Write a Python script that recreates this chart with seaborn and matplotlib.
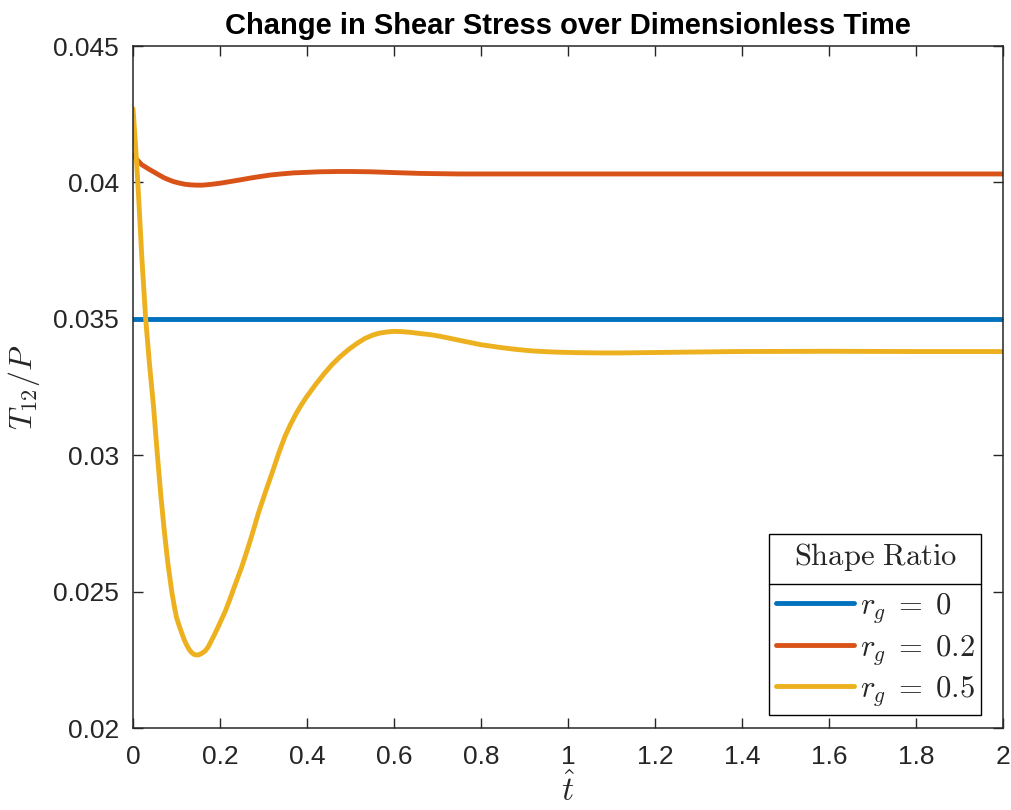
import numpy as np
import pandas as pd
import seaborn as sns
import matplotlib
matplotlib.use("Agg")
import matplotlib.pyplot as plt
from matplotlib.lines import Line2D

# Dimensionless time samples and shear stress T12/P for each shape ratio
t_r0 = [0.0, 2.0]
v_r0 = [0.0350, 0.0350]

t_r02 = [0.0, 0.01, 0.02, 0.035, 0.047, 0.06, 0.07, 0.08, 0.093, 0.105, 0.12,
         0.133, 0.146, 0.16, 0.18, 0.2, 0.223, 0.245, 0.27, 0.29, 0.315, 0.34,
         0.37, 0.4, 0.43, 0.47, 0.5, 0.545, 0.6, 0.66, 0.75, 0.89, 1.1, 1.4,
         1.7, 2.0]
v_r02 = [0.04100, 0.04082, 0.04065, 0.04050, 0.04039, 0.04027, 0.04018, 0.04011,
         0.04003, 0.03998, 0.03993, 0.03991, 0.03990, 0.03990, 0.03993, 0.03997,
         0.04003, 0.04009, 0.04016, 0.04021, 0.04027, 0.04031, 0.04035, 0.04037,
         0.04039, 0.04040, 0.04040, 0.04039, 0.04036, 0.04033, 0.04031, 0.04031,
         0.04031, 0.04031, 0.04031, 0.04031]

t_r05 = [0.0, 0.006, 0.012, 0.020, 0.029, 0.038, 0.047, 0.056, 0.064, 0.072,
         0.080, 0.089, 0.095, 0.100, 0.106, 0.112, 0.118, 0.123, 0.129, 0.135,
         0.140, 0.145, 0.150, 0.155, 0.160, 0.166, 0.173, 0.181, 0.188, 0.196,
         0.204, 0.212, 0.221, 0.230, 0.240, 0.250, 0.260, 0.270, 0.279, 0.288,
         0.305, 0.322, 0.335, 0.349, 0.362, 0.375, 0.387, 0.399, 0.420, 0.440,
         0.458, 0.476, 0.495, 0.515, 0.533, 0.552, 0.568, 0.585, 0.600, 0.618,
         0.640, 0.660, 0.683, 0.706, 0.730, 0.760, 0.800, 0.844, 0.880, 0.920,
         0.970, 1.020, 1.070, 1.120, 1.227, 1.380, 1.600, 1.800, 2.000]
v_r05 = [0.04270, 0.04130, 0.03970, 0.03730, 0.03500, 0.03330, 0.03180, 0.03000,
         0.02850, 0.02720, 0.02605, 0.02500, 0.02445, 0.02405, 0.02375, 0.02348,
         0.02322, 0.02305, 0.02288, 0.02276, 0.02270, 0.02268, 0.02268, 0.02271,
         0.02276, 0.02283, 0.02298, 0.02323, 0.02345, 0.02372, 0.02400, 0.02428,
         0.02465, 0.02505, 0.02548, 0.02591, 0.02640, 0.02690, 0.02738, 0.02787,
         0.02868, 0.02946, 0.03008, 0.03068, 0.03113, 0.03153, 0.03185, 0.03214,
         0.03260, 0.03300, 0.03333, 0.03361, 0.03387, 0.03410, 0.03428, 0.03441,
         0.03448, 0.03452, 0.03454, 0.03453, 0.03450, 0.03446, 0.03442, 0.03436,
         0.03428, 0.03418, 0.03405, 0.03395, 0.03388, 0.03382, 0.03378, 0.03376,
         0.03375, 0.03375, 0.03377, 0.03380, 0.03381, 0.03380, 0.03380]

series_labels = [r"$r_g\;=\;0$", r"$r_g\;=\;0.2$", r"$r_g\;=\;0.5$"]
series_colors = ["#0072BD", "#D95319", "#EDB120"]

frames = []
for lab, tt, vv in zip(series_labels, [t_r0, t_r02, t_r05], [v_r0, v_r02, v_r05]):
    frames.append(pd.DataFrame({"t": tt, "T12P": vv, "ratio": lab}))
df = pd.concat(frames, ignore_index=True)

sns.set_theme(style="ticks")
plt.rcParams["font.family"] = ["Liberation Sans", "DejaVu Sans"]
plt.rcParams["mathtext.fontset"] = "cm"

axis_col = "#262626"

fig = plt.figure(figsize=(10.11, 8.10), dpi=100)
ax = fig.add_axes([0.1316, 0.1012, 0.8605, 0.8420])

sns.lineplot(data=df, x="t", y="T12P", hue="ratio", hue_order=series_labels,
             palette=series_colors, linewidth=3.5, ax=ax, legend=False,
             estimator=None, sort=False)

ax.set_xlim(0, 2)
ax.set_ylim(0.02, 0.045)
ax.set_xticks(np.arange(0, 2.01, 0.2))
ax.set_xticklabels(["0", "0.2", "0.4", "0.6", "0.8", "1", "1.2", "1.4", "1.6", "1.8", "2"])
ax.set_yticks([0.02, 0.025, 0.03, 0.035, 0.04, 0.045])
ax.set_yticklabels(["0.02", "0.025", "0.03", "0.035", "0.04", "0.045"])

for sp in ax.spines.values():
    sp.set_visible(True)
    sp.set_color(axis_col)
    sp.set_linewidth(1.1)
ax.tick_params(axis="both", which="both", direction="in", length=7, width=1.0,
               colors=axis_col, labelsize=19, top=True, right=True,
               labelcolor=axis_col)
ax.tick_params(axis="x", pad=12)
ax.tick_params(axis="y", pad=10)

ax.set_xlabel(r"$\hat{t}$", fontsize=24, color=axis_col, labelpad=3)
ax.set_ylabel(r"$T_{12}/P$", fontsize=23, color=axis_col, labelpad=8)
ax.set_title("Change in Shear Stress over Dimensionless Time", fontsize=21,
             fontweight="bold", color="black", pad=9)

handles = [Line2D([], [], color=c, lw=3.5) for c in series_colors]
leg = ax.legend(handles, series_labels, title=r"$\mathrm{Shape\ Ratio}$",
                loc="lower right", bbox_to_anchor=(0.975, 0.019),
                borderaxespad=0.0, fontsize=22, title_fontsize=22,
                frameon=True, fancybox=False, edgecolor="black",
                handlelength=2.55, handletextpad=0.2, labelspacing=0.24,
                borderpad=0.22)
leg.get_frame().set_linewidth(1.0)
leg.get_frame().set_alpha(1.0)
# wider gap between the legend title and its entries
leg._legend_box.sep = 13

# Separator between the legend title and its entries
fig.canvas.draw()
renderer = fig.canvas.get_renderer()
frame_bb = leg.get_frame().get_window_extent(renderer)
title_bb = leg.get_title().get_window_extent(renderer)
entries_bb = leg._legend_handle_box.get_window_extent(renderer)
sep_y = 0.5 * (title_bb.y0 + entries_bb.y1) - 2
inv = fig.transFigure.inverted()
(x0, y0) = inv.transform((frame_bb.x0, sep_y))
(x1, _) = inv.transform((frame_bb.x1, sep_y))
fig.add_artist(Line2D([x0, x1], [y0, y0], color="black", lw=1.0,
                      transform=fig.transFigure, zorder=10))

fig.savefig("out.png", dpi=100)
